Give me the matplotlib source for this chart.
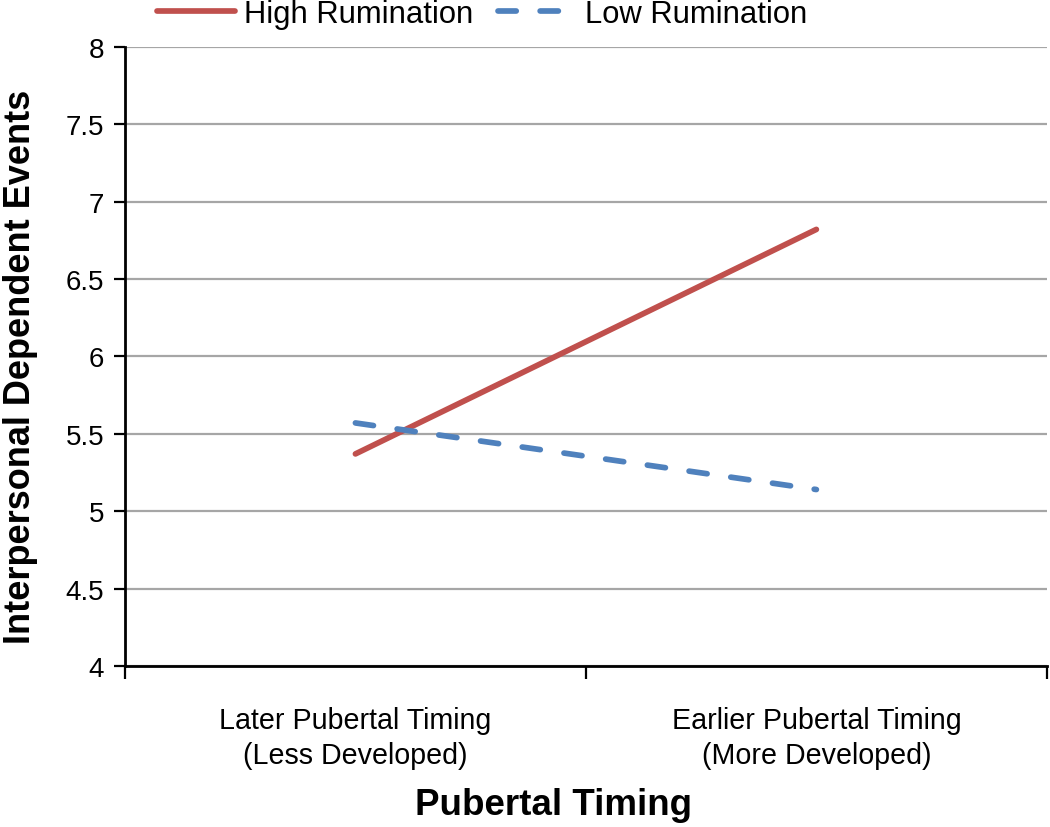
import matplotlib.pyplot as plt
import numpy as np

plt.rcParams['font.family'] = ['Liberation Sans', 'DejaVu Sans']

# data
categories = ['Later Pubertal Timing\n(Less Developed)', 'Earlier Pubertal Timing\n(More Developed)']
high_rum = [5.37, 6.82]
low_rum = [5.57, 5.14]
y_ticks = [4, 4.5, 5, 5.5, 6, 6.5, 7, 7.5, 8]
y_labels = ['4', '4.5', '5', '5.5', '6', '6.5', '7', '7.5', '8']

fig = plt.figure(figsize=(10.5, 8.28), dpi=100)
ax = fig.add_axes([0.119, 0.1944, 0.878, 0.748])

x = np.arange(len(categories))
ax.plot(x, high_rum, color='#C0504D', lw=4.1, solid_capstyle='round', label='High Rumination')
ax.plot(x, low_rum, color='#4F81BD', lw=4.1, ls=(0, (3.2, 4.2)), dash_capstyle='round', label='Low Rumination')

ax.set_ylim(4, 8)
ax.set_xlim(-0.5, 1.5)
ax.set_yticks(y_ticks)
ax.set_yticklabels(y_labels, fontsize=20)
ax.yaxis.grid(True, color='#A6A6A6', lw=1.6)
ax.set_axisbelow(True)

ax.set_xticks([-0.5, 0.5, 1.5])
ax.set_xticklabels([])
ax.set_xticks(x, minor=True)
ax.set_xticklabels(categories, minor=True, fontsize=20.6, linespacing=1.3)
ax.tick_params(axis='x', which='minor', length=0, pad=29)
ax.tick_params(axis='x', which='major', length=9, width=1.6, direction='out')
ax.tick_params(axis='y', length=8, width=1.6, pad=7)

for s in ['top', 'right']:
    ax.spines[s].set_visible(False)
for s in ['left', 'bottom']:
    ax.spines[s].set_linewidth(2)

ax.set_xlabel('Pubertal Timing', fontsize=26.5, fontweight='bold')
ax.xaxis.set_label_coords(0.465, -0.196)
ax.set_ylabel('Interpersonal Dependent Events', fontsize=26, fontweight='bold')
ax.yaxis.set_label_coords(-0.094, 0.485)

fig.legend(loc='center', bbox_to_anchor=(0.459, 0.982), ncol=2, frameon=False,
           fontsize=22.3, handlelength=2.5, handletextpad=0.3, columnspacing=0.8)

fig.savefig('out.png', dpi=100)
